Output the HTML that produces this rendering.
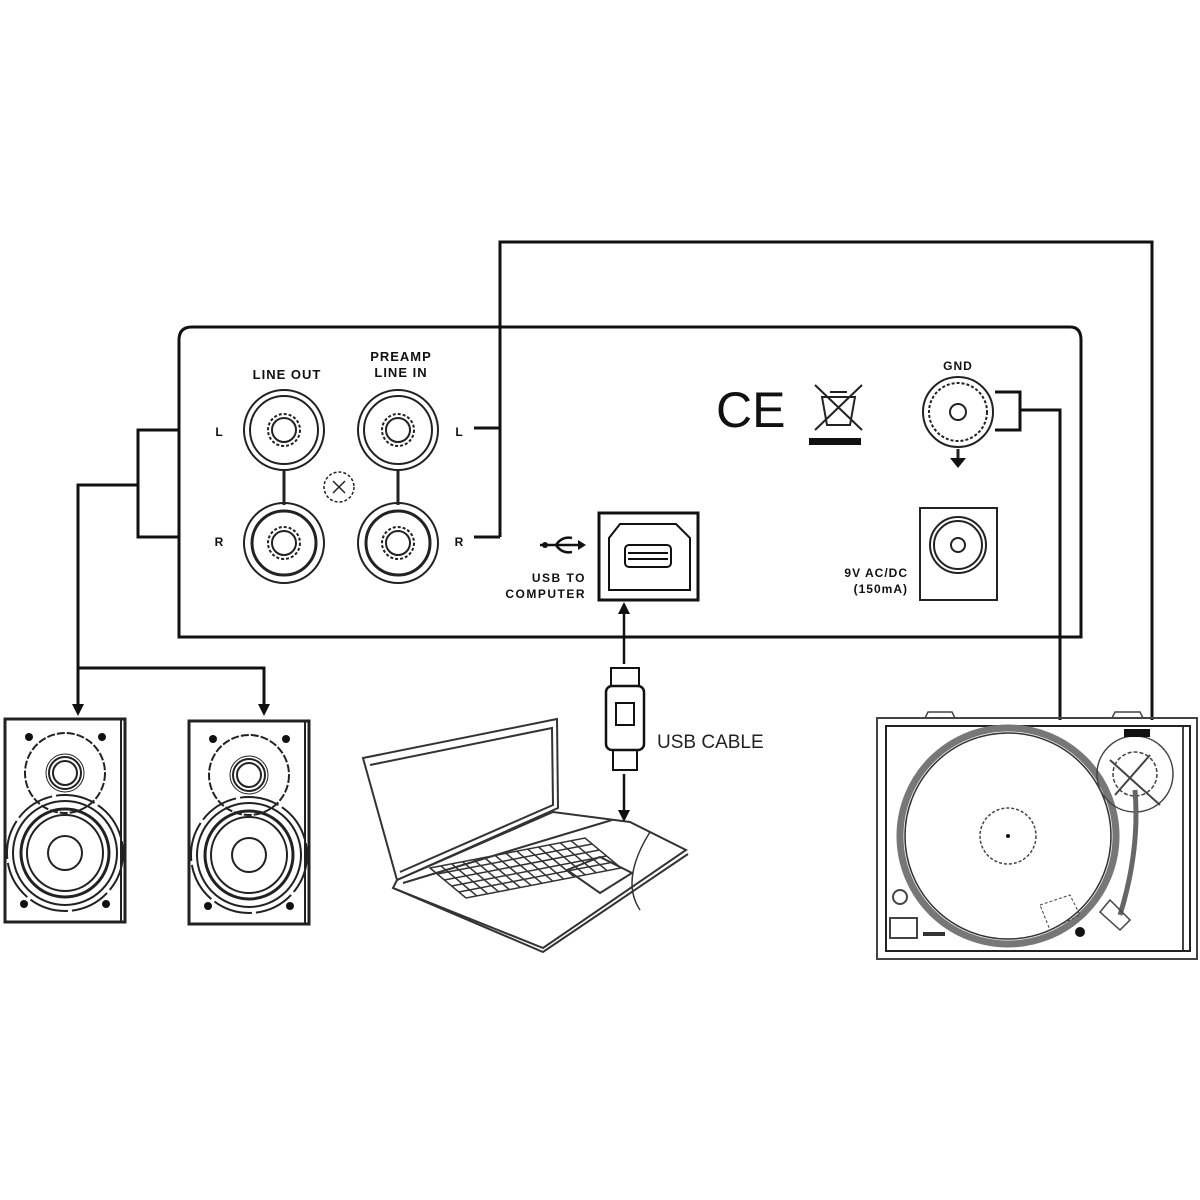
<!DOCTYPE html>
<html><head><meta charset="utf-8"><style>
html,body{margin:0;padding:0;background:#fff;}
svg{display:block;}
.t{font-family:"Liberation Sans",sans-serif;font-weight:bold;fill:#111;}
</style></head><body>
<svg width="1200" height="1200" viewBox="0 0 1200 1200" xmlns="http://www.w3.org/2000/svg">
<g fill="none" stroke="#111" stroke-width="3">
<path d="M179,637 L179,340 Q179,327 192,327 L1070,327 Q1081,327 1081,340 L1081,637 Z"/>
<path d="M474,428 L500,428 M474,537 L500,537 M500,537 L500,242 L1152,242 L1152,720"/>
<path d="M180,430 L138,430 L138,537 L180,537 M138,485 L78,485 L78,706" />
<path d="M78,668 L264,668 L264,706"/>
</g>
<path d="M72,704 L84,704 L78,716 Z M258,704 L270,704 L264,716 Z" fill="#111"/>
<g fill="none" stroke="#111" stroke-width="3">
<path d="M995,392 L1020,392 L1020,430 L995,430 M1020,410 L1060,410 L1060,720"/>
</g>
<text class="t" x="287" y="379" font-size="13" text-anchor="middle" letter-spacing="1">LINE OUT</text>
<text class="t" x="401" y="361" font-size="13" text-anchor="middle" letter-spacing="1">PREAMP</text>
<text class="t" x="401" y="377" font-size="13" text-anchor="middle" letter-spacing="1">LINE IN</text>
<text class="t" x="219" y="436" font-size="12" text-anchor="middle">L</text>
<text class="t" x="219" y="546" font-size="12" text-anchor="middle">R</text>
<text class="t" x="459" y="436" font-size="12" text-anchor="middle">L</text>
<text class="t" x="459" y="546" font-size="12" text-anchor="middle">R</text>
<g fill="none" stroke="#222">
<g stroke-width="3"><line x1="284" y1="470" x2="284" y2="505"/><line x1="398" y1="470" x2="398" y2="505"/></g>
<g stroke-width="2">
<circle cx="284" cy="430" r="40"/><circle cx="284" cy="430" r="34"/><circle cx="284" cy="430" r="16" stroke-dasharray="3 2"/><circle cx="284" cy="430" r="12"/>
<circle cx="398" cy="430" r="40"/><circle cx="398" cy="430" r="34"/><circle cx="398" cy="430" r="16" stroke-dasharray="3 2"/><circle cx="398" cy="430" r="12"/>
<circle cx="284" cy="543" r="40"/><circle cx="284" cy="543" r="32" stroke-width="3"/><circle cx="284" cy="543" r="16" stroke-dasharray="3 2"/><circle cx="284" cy="543" r="12"/>
<circle cx="398" cy="543" r="40"/><circle cx="398" cy="543" r="32" stroke-width="3"/><circle cx="398" cy="543" r="16" stroke-dasharray="3 2"/><circle cx="398" cy="543" r="12"/>
</g>
<circle cx="339" cy="487" r="15" stroke-width="1.5" stroke-dasharray="3 2"/>
<path d="M333,481 L345,493 M345,481 L333,493" stroke-width="1.5"/>
</g>
<g fill="none" stroke="#111">
<rect x="599" y="513" width="99" height="87" stroke-width="3"/>
<path d="M620,524 L676,524 L690,538 L690,590 L609,590 L609,538 Z" stroke-width="2"/>
<rect x="625" y="545" width="46" height="22" rx="4" stroke-width="2"/>
<line x1="628" y1="553" x2="668" y2="553" stroke-width="2"/>
<line x1="628" y1="559" x2="668" y2="559" stroke-width="2"/>
<path d="M540,545 L580,545 M556,545 Q562,536 572,538 M556,545 Q562,554 572,552" stroke-width="2.5"/>
</g>
<path d="M578,540 L586,545 L578,550 Z" fill="#111"/>
<circle cx="545" cy="545" r="3" fill="#111"/>
<text class="t" x="586" y="582" font-size="12" text-anchor="end" letter-spacing="1.5">USB TO</text>
<text class="t" x="586" y="598" font-size="12" text-anchor="end" letter-spacing="1.5">COMPUTER</text>
<text x="716" y="427" font-family="Liberation Sans,sans-serif" font-size="50" fill="#111">CE</text>
<g fill="none" stroke="#222" stroke-width="2">
<path d="M815,385 L862,430 M862,385 L815,430"/>
<path d="M822,397 L855,397 L850,425 L827,425 Z"/>
<path d="M830,392 L847,392"/>
</g>
<rect x="809" y="438" width="52" height="7" fill="#111"/>
<text class="t" x="958" y="370" font-size="12" text-anchor="middle" letter-spacing="1">GND</text>
<g fill="none" stroke="#222" stroke-width="2">
<circle cx="958" cy="412" r="35"/><circle cx="958" cy="412" r="29" stroke-dasharray="3 2"/><circle cx="958" cy="412" r="8"/>
<line x1="958" y1="449" x2="958" y2="460" stroke-width="3"/>
</g>
<path d="M950,458 L966,458 L958,468 Z" fill="#111"/>
<g fill="none" stroke="#222" stroke-width="2">
<rect x="920" y="508" width="77" height="92"/>
<circle cx="958" cy="545" r="28"/><circle cx="958" cy="545" r="24"/><circle cx="958" cy="545" r="7"/>
</g>
<text class="t" x="908" y="577" font-size="12" text-anchor="end" letter-spacing="1">9V AC/DC</text>
<text class="t" x="908" y="593" font-size="12" text-anchor="end" letter-spacing="1">(150mA)</text>
<g fill="none" stroke="#111" stroke-width="2.5">
<line x1="624" y1="612" x2="624" y2="664"/>
<line x1="624" y1="774" x2="624" y2="812"/>
<rect x="611" y="668" width="28" height="18" stroke-width="2"/>
<rect x="606" y="686" width="38" height="64" rx="6"/>
<rect x="613" y="750" width="24" height="20" stroke-width="2"/>
<rect x="616" y="703" width="18" height="22" stroke-width="2"/>
</g>
<path d="M618,614 L630,614 L624,602 Z M618,810 L630,810 L624,822 Z" fill="#111"/>
<text x="657" y="748" font-family="Liberation Sans,sans-serif" font-size="19" fill="#222">USB CABLE</text>
<g id="spk" fill="none" stroke="#222" stroke-width="2">
<rect x="5" y="719" width="120" height="203" stroke-width="3"/>
<line x1="121" y1="720" x2="121" y2="921" stroke-width="2"/>
<circle cx="65" cy="773" r="40" stroke-dasharray="8 2"/>
<circle cx="65" cy="773" r="16"/><circle cx="65" cy="773" r="12"/><circle cx="65" cy="773" r="19" stroke-width="1"/>
<circle cx="65" cy="853" r="58" stroke-dasharray="40 4"/>
<circle cx="65" cy="853" r="52"/>
<circle cx="65" cy="853" r="44" stroke-width="3"/>
<circle cx="65" cy="853" r="38"/>
<circle cx="65" cy="853" r="17"/>
<g fill="#111" stroke="none"><circle cx="29" cy="737" r="4"/><circle cx="102" cy="737" r="4"/><circle cx="24" cy="904" r="4"/><circle cx="106" cy="904" r="4"/></g>
</g>
<use href="#spk" x="184" y="2"/>
<g fill="none" stroke="#333" stroke-width="2">
<path d="M363,758 L557,719 L558,808 L397,880 Z"/>
<path d="M370,765 L552,728 L553,805 L400,872"/>
<path d="M397,880 L553,812 L630,822 L686,850 L543,948 L393,888 Z"/>
<path d="M393,888 L543,952 L688,854"/>
<path d="M403,883 L612,820"/>
<path d="M567,870 L600,857 L632,873 L600,893 Z"/>
<path d="M650,832 Q620,880 640,910" stroke-width="1.5"/>
<g transform="matrix(155,-30,36,30,430,868)" stroke-width="1.5">
<path vector-effect="non-scaling-stroke" d="M0,0 L1,0 L1,1 L0,1 Z M0,0.2 L1,0.2 M0,0.4 L1,0.4 M0,0.6 L1,0.6 M0,0.8 L1,0.8 M0.07,0 L0.07,1 M0.14,0 L0.14,1 M0.21,0 L0.21,1 M0.28,0 L0.28,1 M0.35,0 L0.35,1 M0.42,0 L0.42,1 M0.49,0 L0.49,1 M0.56,0 L0.56,1 M0.63,0 L0.63,1 M0.70,0 L0.70,1 M0.77,0 L0.77,1 M0.84,0 L0.84,1 M0.91,0 L0.91,1"/>
</g>
</g>
<g fill="none" stroke="#444" stroke-width="2">
<rect x="877" y="718" width="320" height="241"/>
<rect x="886" y="726" width="304" height="225" stroke="#222"/>
<line x1="1183" y1="727" x2="1183" y2="950"/>
<path d="M925,718 L928,712 L952,712 L955,718 M1112,718 L1115,712 L1140,712 L1143,718" stroke-width="1.5"/>
<circle cx="1008" cy="836" r="108" stroke="#777" stroke-width="7"/>
<circle cx="1008" cy="836" r="103" stroke="#333" stroke-width="1.5"/>
<circle cx="1008" cy="836" r="28" stroke-width="1.5" stroke-dasharray="3 2"/>
<circle cx="1135" cy="774" r="38" stroke-width="1.5"/>
<circle cx="1135" cy="774" r="22" stroke-width="1.5" stroke-dasharray="4 2"/>
<path d="M1110,760 L1160,805 M1150,755 L1115,795" stroke-width="2"/>
<path d="M1135,790 Q1140,850 1120,915" stroke-width="5" stroke="#666"/>
<path d="M1110,900 L1130,920 L1120,930 L1100,912 Z" stroke-width="1.5"/>
<path d="M1040,905 L1070,895 L1080,915 L1050,930 Z" stroke-width="1" stroke-dasharray="3 2"/>
<circle cx="900" cy="897" r="7"/>
<rect x="890" y="918" width="27" height="20"/>
</g>
<rect x="1124" y="729" width="26" height="8" fill="#111"/>
<circle cx="1080" cy="932" r="5" fill="#111"/>
<rect x="923" y="932" width="22" height="4" fill="#333"/>
<circle cx="1008" cy="836" r="2" fill="#111"/>
</svg>
</body></html>
